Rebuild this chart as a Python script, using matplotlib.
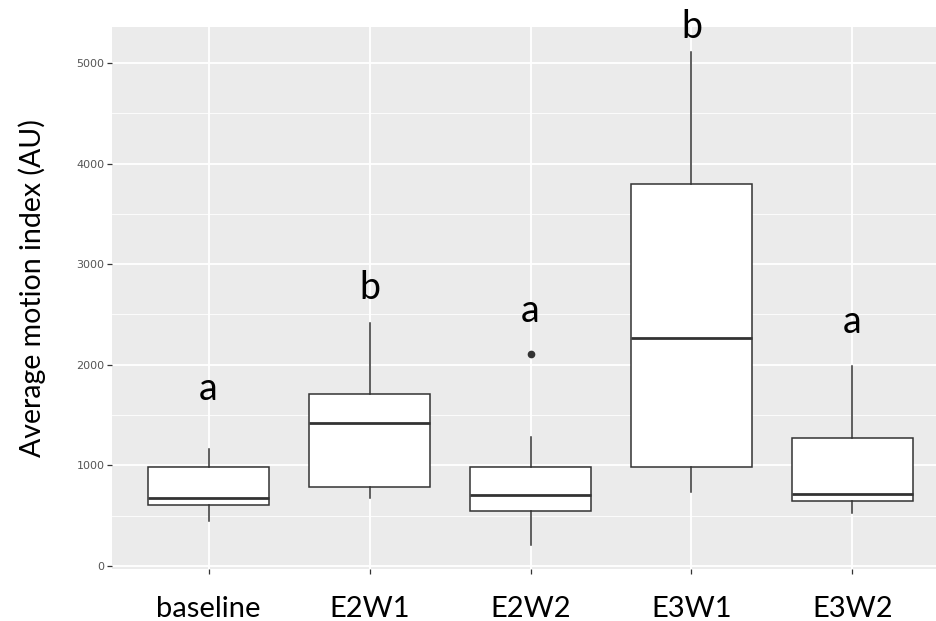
import matplotlib
matplotlib.use("Agg")
import matplotlib.pyplot as plt
from matplotlib.ticker import MultipleLocator

# groups and box statistics
groups = ["baseline", "E2W1", "E2W2", "E3W1", "E3W2"]
whislo = [447, 673, 209, 739, 530]
q1 = [606, 788, 547, 981, 648]
med = [676, 1418, 709, 2263, 718]
q3 = [987, 1707, 981, 3802, 1275]
whishi = [1160, 2415, 1279, 5109, 1990]
fliers = [[], [], [2104], [], []]

letters = ["a", "b", "a", "b", "a"]
letter_y = [1650, 2650, 2430, 5250, 2320]

plt.rcParams['font.family'] = ['Lato', 'DejaVu Sans']

fig = plt.figure(figsize=(9.36, 6.21), dpi=100)
ax = fig.add_axes([112 / 936, 52 / 621, 837 / 936, 542 / 621])
ax.set_facecolor("#EBEBEB")

stats = []
for i in range(len(groups)):
    stats.append(dict(label=groups[i], whislo=whislo[i], q1=q1[i], med=med[i],
                      q3=q3[i], whishi=whishi[i], fliers=fliers[i]))

pos = list(range(1, len(groups) + 1))
ax.bxp(stats, positions=pos, widths=0.75, patch_artist=True, showcaps=False,
       boxprops=dict(facecolor="white", edgecolor="#333333", linewidth=1.1),
       whiskerprops=dict(color="#333333", linewidth=1.1),
       medianprops=dict(color="#333333", linewidth=2.0),
       flierprops=dict(marker="o", markerfacecolor="#333333", markeredgecolor="#333333",
                       markersize=4.5),
       zorder=3)

for i in range(len(groups)):
    ax.text(pos[i], letter_y[i], letters[i], ha="center", va="baseline",
            fontsize=27, color="black", clip_on=False, zorder=5)

ax.set_xlim(0.4, 5.6)
ax.set_ylim(-30, 5358)
ax.yaxis.set_major_locator(MultipleLocator(1000))
ax.yaxis.set_minor_locator(MultipleLocator(500))
ax.grid(which="major", color="white", linewidth=1.3, zorder=0)
ax.grid(which="minor", axis="y", color="white", linewidth=0.6, zorder=0)
ax.set_axisbelow(True)
for s in ax.spines.values():
    s.set_visible(False)

ax.set_xticks(pos)
ax.set_xticklabels(groups, fontsize=21, color="black")
ax.tick_params(axis="x", length=3.5, width=0.9, color="#333333", pad=16)
ax.tick_params(axis="y", which="major", length=3.5, width=0.9, color="#333333",
               labelsize=8, labelcolor="#555555", pad=2)
ax.tick_params(axis="y", which="minor", length=0)
for lab in ax.get_yticklabels():
    lab.set_fontfamily(["DejaVu Sans"])

fig.text(32 / 936, 1 - 288 / 621, "Average motion index (AU)", rotation=90,
         ha="center", va="center", fontsize=20.5, color="black")

fig.savefig("out.png", dpi=100)
